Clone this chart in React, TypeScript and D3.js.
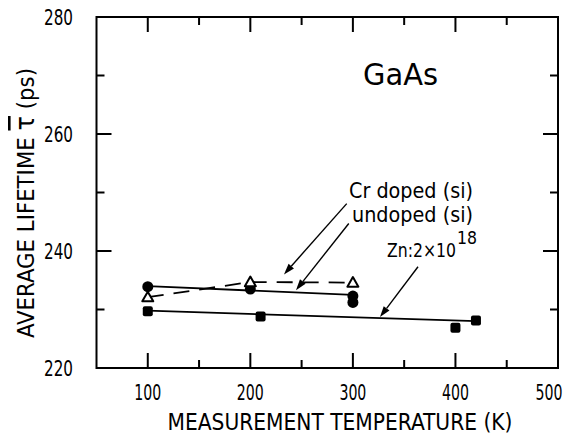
import React from "react";
import * as d3 from "d3";

// Average positron lifetime in GaAs vs. measurement temperature
const crTemps = [100, 200, 300];
const crLife = [232.1, 234.7, 234.6];

const undopedTemps = [100, 200, 300, 300];
const undopedLife = [233.9, 233.5, 232.3, 231.2];
const undopedFitTemps = [100, 300];
const undopedFitLife = [234.0, 232.5];

const znTemps = [100, 210, 400, 420];
const znLife = [229.7, 228.8, 226.9, 228.1];
const znFitTemps = [100, 420];
const znFitLife = [229.8, 228.0];

const xMajorTicks = [100, 200, 300, 400, 500];
const xMinorTicks = [150, 250, 350, 450];
const yMajorTicks = [220, 240, 260, 280];
const yMinorTicks = [230, 250, 270];

const W = 574;
const H = 436;
const FONT = "'DejaVu Sans Condensed', 'DejaVu Sans', sans-serif";

const x = d3.scaleLinear().domain([50, 500]).range([96.5, 558]);
const y = d3.scaleLinear().domain([220, 280]).range([368, 17]);

// Labels with leader arrows (arrow start/tip given in data units)
const arrows = [
  { from: [294, 248.1], to: [232.8, 236.0] },
  { from: [296, 244.7], to: [244.5, 233.3] },
  { from: [363.5, 237.3], to: [326.4, 228.7] },
];

function Arrow({ from, to }: { from: number[]; to: number[] }) {
  const x1 = x(from[0]);
  const y1 = y(from[1]);
  const x2 = x(to[0]);
  const y2 = y(to[1]);
  const ang = Math.atan2(y2 - y1, x2 - x1);
  const len = 11;
  const half = 3.6;
  const bx = x2 - len * Math.cos(ang);
  const by = y2 - len * Math.sin(ang);
  const px = -Math.sin(ang) * half;
  const py = Math.cos(ang) * half;
  return (
    <g>
      <line x1={x1} y1={y1} x2={bx} y2={by} stroke="#000" strokeWidth={1.4} />
      <path
        d={`M${x2},${y2}L${bx + px},${by + py}L${bx - px},${by - py}Z`}
        fill="#000"
      />
    </g>
  );
}

export default function App() {
  const lineGen = (ts: number[], vs: number[]) =>
    d3
      .line<number>()
      .x((_, i) => x(ts[i]))
      .y((v) => y(v))(vs) as string;

  const triPath = (cx: number, cy: number) => {
    const s = 5.5;
    return `M${cx},${cy - s}L${cx + s},${cy + s * 0.75}L${cx - s},${cy + s * 0.75}Z`;
  };

  const left = x(50);
  const right = x(500);
  const top = y(280);
  const bottom = y(220);

  return (
    <svg
      width={W}
      height={H}
      style={{ position: "absolute", left: 0, top: 0, background: "#fff" }}
      fontFamily={FONT}
    >
      <rect x={0} y={0} width={W} height={H} fill="#fff" />

      {/* frame */}
      <rect
        x={left}
        y={top}
        width={right - left}
        height={bottom - top}
        fill="none"
        stroke="#000"
        strokeWidth={2}
      />

      {/* inward ticks on all four sides */}
      {xMajorTicks.slice(0, 4).map((t) => (
        <g key={"xM" + t}>
          <line x1={x(t)} x2={x(t)} y1={bottom} y2={bottom - 15} stroke="#000" strokeWidth={2} />
          <line x1={x(t)} x2={x(t)} y1={top} y2={top + 15} stroke="#000" strokeWidth={2} />
        </g>
      ))}
      {xMinorTicks.map((t) => (
        <g key={"xm" + t}>
          <line x1={x(t)} x2={x(t)} y1={bottom} y2={bottom - 8} stroke="#000" strokeWidth={2} />
          <line x1={x(t)} x2={x(t)} y1={top} y2={top + 8} stroke="#000" strokeWidth={2} />
        </g>
      ))}
      {yMajorTicks.slice(1, 3).map((t) => (
        <g key={"yM" + t}>
          <line x1={left} x2={left + 15} y1={y(t)} y2={y(t)} stroke="#000" strokeWidth={2} />
          <line x1={right} x2={right - 15} y1={y(t)} y2={y(t)} stroke="#000" strokeWidth={2} />
        </g>
      ))}
      {yMinorTicks.map((t) => (
        <g key={"ym" + t}>
          <line x1={left} x2={left + 8} y1={y(t)} y2={y(t)} stroke="#000" strokeWidth={2} />
          <line x1={right} x2={right - 8} y1={y(t)} y2={y(t)} stroke="#000" strokeWidth={2} />
        </g>
      ))}

      {/* tick labels */}
      {xMajorTicks.map((t) => (
        <text
          key={"xl" + t}
          x={Math.min(x(t), 549)}
          y={400}
          textAnchor="middle"
          fontSize={22}
          textLength={27}
          lengthAdjust="spacingAndGlyphs"
        >
          {t}
        </text>
      ))}
      {yMajorTicks.map((t) => (
        <text
          key={"yl" + t}
          x={73}
          y={y(t) + 8}
          textAnchor="end"
          fontSize={22}
          textLength={29}
          lengthAdjust="spacingAndGlyphs"
        >
          {t}
        </text>
      ))}

      {/* axis titles */}
      <text
        x={340}
        y={430}
        textAnchor="middle"
        fontSize={23}
        textLength={345}
        lengthAdjust="spacingAndGlyphs"
      >
        MEASUREMENT TEMPERATURE (K)
      </text>
      <text
        transform={`translate(34,203) rotate(-90)`}
        textAnchor="middle"
        fontSize={23}
        textLength={270}
        lengthAdjust="spacingAndGlyphs"
      >
        AVERAGE LIFETIME <tspan fontSize={26} textDecoration="overline">τ</tspan> (ps)
      </text>

      {/* sample label */}
      <text x={363} y={85} fontSize={30} textLength={75} lengthAdjust="spacingAndGlyphs">
        GaAs
      </text>

      {/* fitted lines */}
      <path d={lineGen(undopedFitTemps, undopedFitLife)} fill="none" stroke="#000" strokeWidth={1.8} />
      <path d={lineGen(znFitTemps, znFitLife)} fill="none" stroke="#000" strokeWidth={1.8} />
      <path
        d={lineGen(crTemps, crLife)}
        fill="none"
        stroke="#000"
        strokeWidth={1.8}
        strokeDasharray="16 10"
      />

      {/* markers */}
      {znTemps.map((t, i) => (
        <rect
          key={"zn" + i}
          x={x(t) - 5}
          y={y(znLife[i]) - 5}
          width={10}
          height={10}
          rx={2}
          fill="#000"
        />
      ))}
      {undopedTemps.map((t, i) => (
        <circle key={"ud" + i} cx={x(t)} cy={y(undopedLife[i])} r={5.5} fill="#000" />
      ))}
      {crTemps.map((t, i) => (
        <path
          key={"cr" + i}
          d={triPath(x(t), y(crLife[i]))}
          fill="#fff"
          stroke="#000"
          strokeWidth={2}
          strokeLinejoin="round"
        />
      ))}

      {/* annotations */}
      <text x={349} y={198} fontSize={22} textLength={124} lengthAdjust="spacingAndGlyphs">
        Cr doped (si)
      </text>
      <text x={352} y={222} fontSize={22} textLength={121} lengthAdjust="spacingAndGlyphs">
        undoped (si)
      </text>
      <text x={387} y={257} fontSize={20} textLength={69} lengthAdjust="spacingAndGlyphs">
        Zn:2×10
      </text>
      <text x={457} y={244} fontSize={17} textLength={20} lengthAdjust="spacingAndGlyphs">
        18
      </text>
      {arrows.map((a, i) => (
        <Arrow key={"ar" + i} from={a.from} to={a.to} />
      ))}
    </svg>
  );
}
